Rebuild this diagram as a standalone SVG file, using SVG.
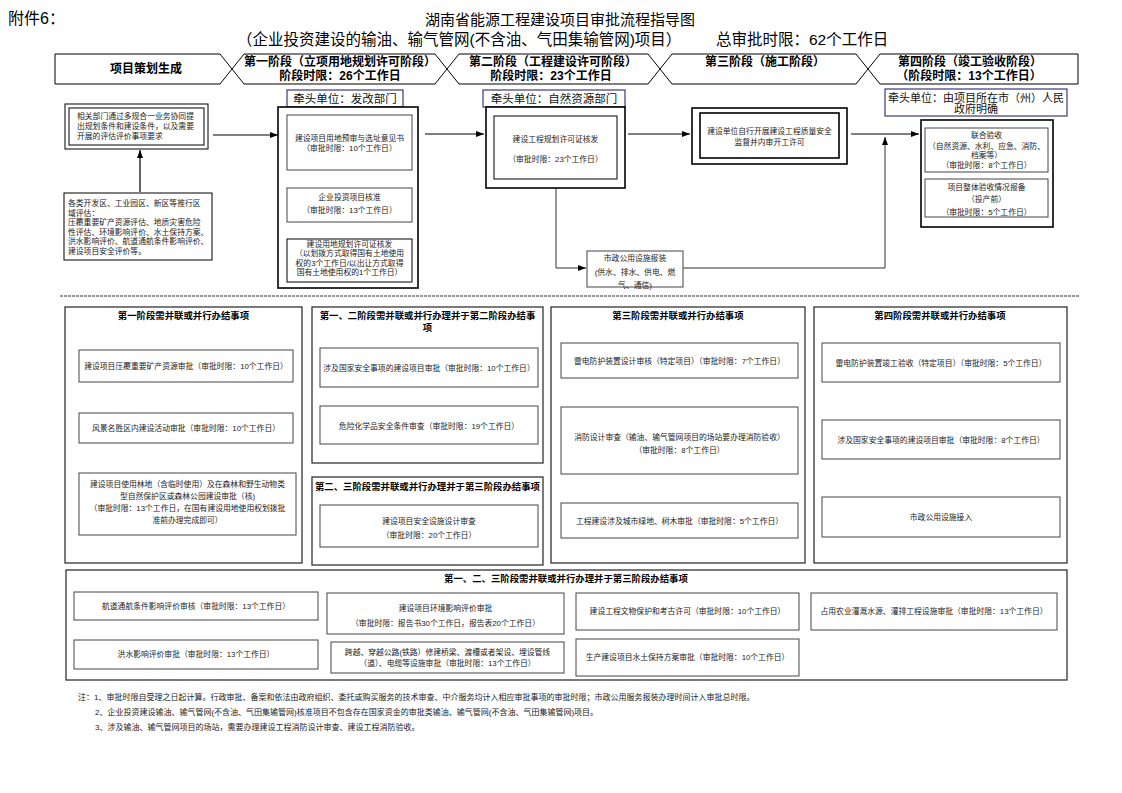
<svg xmlns="http://www.w3.org/2000/svg" width="1122" height="793" viewBox="0 0 1122 793">
<defs>
<marker id="arr" markerWidth="8" markerHeight="6" refX="8" refY="3" orient="auto" markerUnits="userSpaceOnUse"><path d="M0,0 L8,3 L0,6 z" fill="#000"/></marker>
<style>
text{font-family:"Liberation Sans","Noto Sans CJK SC",sans-serif;fill:#222}
.t{font-size:7.8px}
.c{text-anchor:middle}
.h{font-size:12px;font-weight:bold;fill:#000;text-anchor:middle}
.pt{font-size:9.4px;font-weight:bold;fill:#000;text-anchor:middle}
.lead{font-size:11.5px;fill:#111;text-anchor:middle}
.hd{fill:#fff;stroke:#000;stroke-width:1}
.b{fill:#fff;stroke:#000;stroke-width:1}
.bo{fill:#fff;stroke:#000;stroke-width:1.6}
.g{fill:#fff;stroke:#444;stroke-width:1}
.pn{fill:#fff;stroke:#333;stroke-width:1.3}
.ld{fill:#fff;stroke:#3a3a7a;stroke-width:1.2}
.cn{fill:none;stroke:#000;stroke-width:1.2}
.cg{fill:none;stroke:#333;stroke-width:1}
</style>
</defs>
<rect width="1122" height="793" fill="#fff"/>
<g id="title">
<text x="8" y="24" style="font-size:16px;fill:#000">附件6：</text>
<text x="560" y="25" class="c" style="font-size:15px;fill:#000">湖南省能源工程建设项目审批流程指导图</text>
<text x="237" y="45" style="font-size:15.5px;fill:#000">（企业投资建设的输油、输气管网(不含油、气田集输管网)项目）</text>
<text x="716" y="45" style="font-size:15.5px;fill:#000">总审批时限：62个工作日</text>
</g>
<g id="header">
<polygon class="hd" points="55,54 220,54 232,69 220,84 55,84"/>
<text x="146" y="73" class="h">项目策划生成</text>
<polygon class="hd" points="232,69 244,54 435,54 447,69 435,84 244,84"/>
<text x="340" y="66" class="h">第一阶段（立项用地规划许可阶段）</text>
<text x="340" y="80" class="h">阶段时限：26个工作日</text>
<polygon class="hd" points="447,69 459,54 648,54 660,69 648,84 459,84"/>
<text x="553" y="66" class="h">第二阶段（工程建设许可阶段）</text>
<text x="551" y="80" class="h">阶段时限：23个工作日</text>
<polygon class="hd" points="660,69 672,54 856,54 868,69 856,84 672,84"/>
<text x="765" y="66" class="h">第三阶段（施工阶段）</text>
<polygon class="hd" points="868,69 880,54 1078,54 1078,84 880,84"/>
<text x="970" y="66" class="h">第四阶段（竣工验收阶段）</text>
<text x="969" y="80" class="h">（阶段时限：13个工作日）</text>
</g>
<g id="connectors">
<path class="cn" d="M213,135 H278" marker-end="url(#arr)"/>
<path class="cn" d="M140,192 V150" marker-end="url(#arr)"/>
<path class="cn" d="M425,134 H484" marker-end="url(#arr)"/>
<path class="cn" d="M628,134 H690" marker-end="url(#arr)"/>
<path class="cn" d="M851,134 H919" marker-end="url(#arr)"/>
<path class="cg" d="M556,188 V268 H586" marker-end="url(#arr)"/>
<path class="cg" d="M683,268 H885 V137" marker-end="url(#arr)"/>
</g>
<g id="pre-box">
<rect class="b" x="65" y="104" width="143" height="45"/>
<rect class="b" x="69" y="108" width="135" height="37"/>
<text x="77" y="119" class="t">相关部门通过多规合一业务协同提</text>
<text x="77" y="129" class="t">出规划条件和建设条件，以及需要</text>
<text x="77" y="139" class="t">开展的评估评价事项要求</text>
</g>
<g id="area-eval">
<rect class="b" x="64" y="193" width="148" height="67"/>
<text x="68" y="206" class="t">各类开发区、工业园区、新区等推行区</text>
<text x="68" y="215.5" class="t">域评估：</text>
<text x="68" y="225" class="t">压覆重要矿产资源评估、地质灾害危险</text>
<text x="68" y="234.5" class="t">性评估、环境影响评价、水土保持方案、</text>
<text x="68" y="244" class="t">洪水影响评价、航道通航条件影响评价、</text>
<text x="68" y="253.5" class="t">建设项目安全评价等。</text>
</g>
<g id="stage1">
<rect class="ld" x="287" y="90" width="116" height="17"/>
<text x="345" y="103" class="lead">牵头单位：发改部门</text>
<rect class="bo" x="278" y="107" width="140" height="181"/>
<rect class="g" x="287" y="115" width="125" height="55"/>
<text x="349.5" y="141" class="t c">建设项目用地预审与选址意见书</text>
<text x="349.5" y="151" class="t c">（审批时限：10个工作日）</text>
<rect class="g" x="287" y="188" width="125" height="34"/>
<text x="349.5" y="200" class="t c">企业投资项目核准</text>
<text x="349.5" y="213" class="t c">（审批时限：13个工作日）</text>
<rect class="b" x="287" y="239" width="125" height="43"/>
<text x="349.5" y="247" class="t c">建设用地规划许可证核发</text>
<text x="349.5" y="256" class="t c">（以划拨方式取得国有土地使用</text>
<text x="349.5" y="266" class="t c">权的3个工作日/以出让方式取得</text>
<text x="349.5" y="275" class="t c">国有土地使用权的1个工作日）</text>
</g>
<g id="stage2">
<rect class="ld" x="483" y="90" width="142" height="17"/>
<text x="554" y="103" class="lead">牵头单位：自然资源部门</text>
<rect class="bo" x="486" y="107" width="139" height="81"/>
<rect class="b" x="494" y="116" width="123" height="63"/>
<text x="555.5" y="142" class="t c">建设工程规划许可证核发</text>
<text x="555.5" y="162" class="t c">（审批时限：23个工作日）</text>
</g>
<g id="municipal">
<rect class="g" x="587" y="251" width="96" height="36"/>
<text x="635" y="261" class="t c">市政公用设施报装</text>
<text x="635" y="275" class="t c">(供水、排水、供电、燃</text>
<text x="635" y="288" class="t c">气、通信)</text>
</g>
<g id="stage3">
<rect class="bo" x="692" y="108" width="155" height="56"/>
<rect class="bo" x="700" y="113" width="139" height="45"/>
<text x="769.5" y="134" class="t c">建设单位自行开展建设工程质量安全</text>
<text x="769.5" y="145" class="t c">监督并内审开工许可</text>
</g>
<g id="stage4">
<rect class="ld" x="885" y="89" width="182" height="27"/>
<text x="976" y="102" class="lead" style="font-size:11px">牵头单位：由项目所在市（州）人民</text>
<text x="976" y="113" class="lead" style="font-size:11px">政府明确</text>
<rect class="bo" x="921" y="120" width="132" height="107"/>
<rect class="g" x="925" y="128" width="123" height="44"/>
<text x="986.5" y="138" class="t c">联合验收</text>
<text x="986.5" y="149" class="t c">（自然资源、水利、应急、消防、</text>
<text x="986.5" y="158" class="t c">档案等）</text>
<text x="986.5" y="168" class="t c">（审批时限：8个工作日）</text>
<rect class="g" x="925" y="179" width="123" height="38"/>
<text x="986.5" y="190" class="t c">项目整体验收情况报备</text>
<text x="986.5" y="202" class="t c">（投产前）</text>
<text x="986.5" y="215" class="t c">（审批时限：5个工作日）</text>
</g>
<line x1="60" y1="296" x2="1080" y2="296" stroke="#333" stroke-width="1" stroke-dasharray="3,1"/>
<g id="panel1">
<rect class="pn" x="65" y="307" width="237" height="256"/>
<text x="183.5" y="319" class="pt">第一阶段需并联或并行办结事项</text>
<rect class="g" x="79" y="350" width="214" height="32"/>
<text x="186" y="369" class="t c">建设项目压覆重要矿产资源审批（审批时限：10个工作日）</text>
<rect class="g" x="79" y="413" width="214" height="30"/>
<text x="186" y="431" class="t c">风景名胜区内建设活动审批（审批时限：10个工作日）</text>
<rect class="g" x="79" y="473" width="217" height="62"/>
<text x="187.5" y="487" class="t c">建设项目使用林地（含临时使用）及在森林和野生动物类</text>
<text x="187.5" y="499" class="t c">型自然保护区或森林公园建设审批（核)</text>
<text x="187.5" y="511" class="t c">（审批时限：13个工作日，在国有建设用地使用权划拨批</text>
<text x="187.5" y="523" class="t c">准前办理完成即可）</text>
</g>
<g id="panel2">
<rect class="pn" x="312" y="307" width="231" height="156"/>
<text x="427.5" y="319" class="pt">第一、二阶段需并联或并行办理并于第二阶段办结事</text>
<text x="427.5" y="331" class="pt">项</text>
<rect class="g" x="320" y="348" width="218" height="39"/>
<text x="429" y="371" class="t c">涉及国家安全事项的建设项目审批（审批时限：10个工作日）</text>
<rect class="g" x="320" y="406" width="218" height="38"/>
<text x="429" y="429" class="t c">危险化学品安全条件审查（审批时限：19个工作日）</text>
</g>
<g id="panel3">
<rect class="pn" x="312" y="477" width="231" height="88"/>
<text x="427.5" y="490" class="pt">第二、三阶段需并联或并行办理并于第三阶段办结事项</text>
<rect class="g" x="320" y="505" width="218" height="42"/>
<text x="429" y="524" class="t c">建设项目安全设施设计审查</text>
<text x="429" y="538" class="t c">（审批时限：20个工作日）</text>
</g>
<g id="panel4">
<rect class="pn" x="551" y="307" width="254" height="256"/>
<text x="678" y="319" class="pt">第三阶段需并联或并行办结事项</text>
<rect class="g" x="561" y="343" width="237" height="35"/>
<text x="679.5" y="364" class="t c">雷电防护装置设计审核（特定项目）（审批时限：7个工作日）</text>
<rect class="g" x="561" y="407" width="237" height="67"/>
<text x="679.5" y="440" class="t c">消防设计审查（输油、输气管网项目的场站要办理消防验收）</text>
<text x="679.5" y="453" class="t c">（审批时限：8个工作日）</text>
<rect class="g" x="561" y="503" width="237" height="35"/>
<text x="679.5" y="524" class="t c">工程建设涉及城市绿地、树木审批（审批时限：5个工作日）</text>
</g>
<g id="panel5">
<rect class="pn" x="814" y="307" width="253" height="256"/>
<text x="940" y="319" class="pt">第四阶段需并联或并行办结事项</text>
<rect class="g" x="822" y="343" width="238" height="39"/>
<text x="941" y="366" class="t c">雷电防护装置竣工验收（特定项目）（审批时限：5个工作日）</text>
<rect class="g" x="822" y="420" width="238" height="39"/>
<text x="941" y="443" class="t c">涉及国家安全事项的建设项目审批（审批时限：8个工作日）</text>
<rect class="g" x="822" y="497" width="238" height="40"/>
<text x="941" y="520" class="t c">市政公用设施接入</text>
</g>
<g id="panel6">
<rect class="pn" x="66" y="570" width="1001" height="110"/>
<text x="566" y="582" class="pt">第一、二、三阶段需并联或并行办理并于第三阶段办结事项</text>
<rect class="g" x="74" y="592" width="244" height="28"/>
<text x="196" y="609" class="t c">航道通航条件影响评价审核（审批时限：13个工作日）</text>
<rect class="g" x="74" y="640" width="244" height="29"/>
<text x="196" y="657" class="t c">洪水影响评价审批（审批时限：13个工作日）</text>
<rect class="g" x="327" y="593" width="237" height="41"/>
<text x="445.5" y="611" class="t c">建设项目环境影响评价审批</text>
<text x="445.5" y="626" class="t c">（审批时限：报告书30个工作日，报告表20个工作日）</text>
<rect class="g" x="331" y="642" width="233" height="31"/>
<text x="447.5" y="655" class="t c">跨越、穿越公路(铁路）修建桥梁、渡槽或者架设、埋设管线</text>
<text x="447.5" y="666" class="t c">（道）、电缆等设施审批（审批时限：13个工作日）</text>
<rect class="g" x="576" y="593" width="223" height="37"/>
<text x="687.5" y="614" class="t c">建设工程文物保护和考古许可（审批时限：10个工作日）</text>
<rect class="g" x="576" y="639" width="223" height="37"/>
<text x="687.5" y="660" class="t c">生产建设项目水土保持方案审批（审批时限：10个工作日）</text>
<rect class="g" x="811" y="593" width="246" height="37"/>
<text x="934" y="614" class="t c">占用农业灌溉水源、灌排工程设施审批（审批时限：13个工作日）</text>
</g>
<g id="notes">
<text x="78" y="700" style="font-size:8px">注：1、审批时限自受理之日起计算。行政审批、备案和依法由政府组织、委托或购买服务的技术审查、中介服务均计入相应审批事项的审批时限；市政公用服务报装办理时间计入审批总时限。</text>
<text x="95" y="715" style="font-size:8px">2、企业投资建设输油、输气管网(不含油、气田集输管网)核准项目不包含存在国家资金的审批类输油、输气管网(不含油、气田集输管网)项目。</text>
<text x="95" y="730" style="font-size:8px">3、涉及输油、输气管网项目的场站，需要办理建设工程消防设计审查、建设工程消防验收。</text>
</g>
</svg>
